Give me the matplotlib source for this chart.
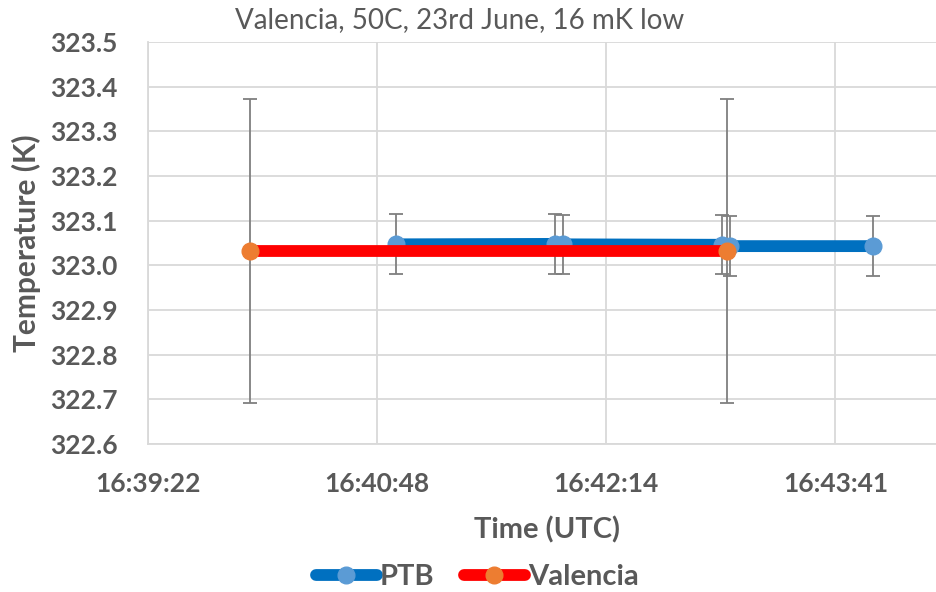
import matplotlib.pyplot as plt
from matplotlib.ticker import FuncFormatter, MultipleLocator

plt.rcParams['font.family'] = ['Lato', 'DejaVu Sans']

# times as HH:MM:SS, temperatures in K
ptb_times = ['16:40:55', '16:41:55', '16:41:58', '16:42:58', '16:43:01', '16:43:55']
ptb_temp = [323.047, 323.048, 323.047, 323.046, 323.043, 323.043]
ptb_err = [0.067, 0.067, 0.066, 0.066, 0.067, 0.067]

val_times = ['16:40:00', '16:43:00']
val_temp = [323.032, 323.032]
val_err = [0.34, 0.34]

title = 'Valencia, 50C, 23rd June, 16 mK low'
grey = '#595959'


def to_sec(t):
    h, m, s = t.split(':')
    return int(h) * 3600 + int(m) * 60 + int(s)


def fmt_time(x, pos):
    s = int(round(x))
    return '%d:%02d:%02d' % (s // 3600, (s // 60) % 60, s % 60)


ptb_x = [to_sec(t) for t in ptb_times]
val_x = [to_sec(t) for t in val_times]

fig = plt.figure(figsize=(9.36, 5.92), dpi=100)
ax = fig.add_axes([148 / 936, 1 - 444 / 592, (950 - 148) / 936, (444 - 42) / 592])

ax.errorbar(ptb_x, ptb_temp, yerr=ptb_err, fmt='none', ecolor='#7f7f7f',
            elinewidth=1.3, capsize=5, capthick=1.3, zorder=2)
ax.errorbar(val_x, val_temp, yerr=val_err, fmt='none', ecolor='#7f7f7f',
            elinewidth=1.3, capsize=5, capthick=1.3, zorder=2)
ax.plot(ptb_x, ptb_temp, color='#0070C0', lw=8.5, marker='o', markersize=12,
        markerfacecolor='#5B9BD5', markeredgecolor='#5B9BD5', label='PTB',
        solid_capstyle='round', zorder=3)
ax.plot(val_x, val_temp, color='#FF0000', lw=8.5, marker='o', markersize=12,
        markerfacecolor='#ED7D31', markeredgecolor='#ED7D31', label='Valencia',
        solid_capstyle='round', zorder=4)

ax.set_ylim(322.6, 323.5)
ax.yaxis.set_major_locator(MultipleLocator(0.1))
ax.yaxis.set_major_formatter(FuncFormatter(lambda v, p: '%.1f' % v))
ax.set_xlim(0.694 * 86400, 0.6975 * 86400)
ax.set_xticks([0.694 * 86400, 0.695 * 86400, 0.696 * 86400, 0.697 * 86400])
ax.xaxis.set_major_formatter(FuncFormatter(fmt_time))

ax.grid(True, color='#D9D9D9', lw=1.3)
ax.set_axisbelow(True)
for side in ['top', 'right']:
    ax.spines[side].set_visible(False)
for side in ['left', 'bottom']:
    ax.spines[side].set_color('#D9D9D9')
    ax.spines[side].set_linewidth(1.3)
ax.tick_params(length=0, colors=grey, labelsize=19)
ax.tick_params(axis='y', pad=22)
ax.tick_params(axis='x', pad=20)
for lab in ax.get_xticklabels() + ax.get_yticklabels():
    lab.set_fontweight('bold')

fig.text(460 / 936, 1 - 20 / 592, title, ha='center', va='center',
         fontsize=20, color=grey)
ax.set_xlabel('Time (UTC)', fontsize=21, fontweight='bold', color=grey)
ax.xaxis.set_label_coords((547 - 148) / (950 - 148), -(516 - 444) / (444 - 42))
ax.set_ylabel('Temperature (K)', fontsize=21.5, fontweight='bold', color=grey)
ax.yaxis.set_label_coords(-(148 - 41) / (950 - 148), 0.5)

leg = fig.legend(loc='center', bbox_to_anchor=(477 / 936, 1 - 577 / 592),
                 ncol=2, frameon=False, fontsize=21, handlelength=2.1,
                 handletextpad=0.1, columnspacing=1.0)
for t in leg.get_texts():
    t.set_color(grey)
    t.set_fontweight('bold')

fig.savefig('out.png', dpi=100)
